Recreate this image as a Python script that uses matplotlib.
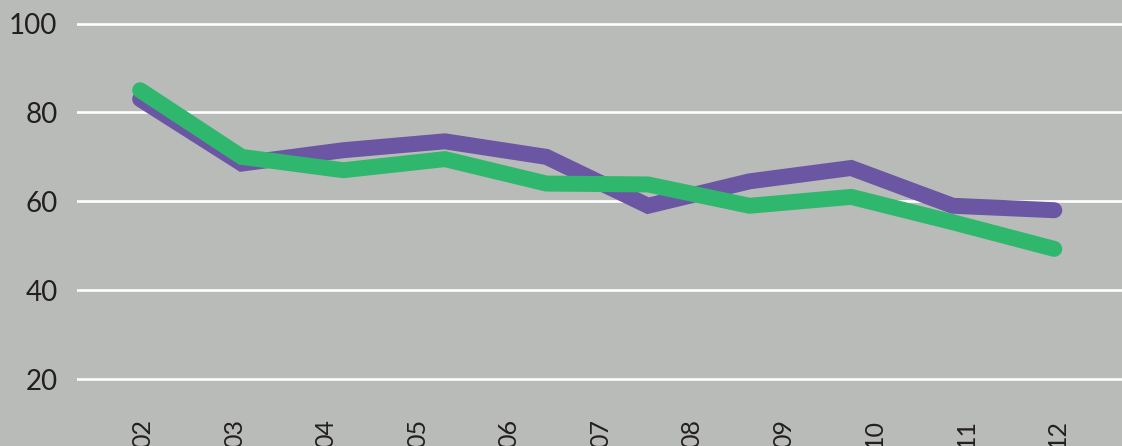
import numpy as np
import matplotlib
matplotlib.use("Agg")
import matplotlib.pyplot as plt

# tick labels along the bottom
years = ["02", "03", "04", "05", "06", "07", "08", "09", "10", "11", "12"]

# two series, 10 points each
purple_vals = [83, 68.5, 71.5, 73.5, 70, 59, 64.5, 67.5, 59, 58]
green_vals = [85, 70, 67, 69.5, 64, 63.8, 59, 61, 55.3, 49.3]

BG = "#b9bbb9"
PURPLE = "#6b56a3"
GREEN = "#30b76e"
TEXT = "#231f20"

plt.rcParams['font.family'] = ['Lato', 'DejaVu Sans']

fig = plt.figure(figsize=(11.22, 4.46), dpi=100)
fig.patch.set_facecolor(BG)
ax = fig.add_axes([77 / 1122, 34 / 446, 1 - 77 / 1122, 1 - 34 / 446])
ax.set_facecolor(BG)

# the series points are spread over the label range, not one per label
xs = np.linspace(-0.03, 9.96, len(purple_vals))

for vals, col in [(purple_vals, PURPLE), (green_vals, GREEN)]:
    ax.plot(xs, vals, color=col, lw=11.5, solid_capstyle='round',
            solid_joinstyle='miter', zorder=3)

ax.set_ylim(12.6, 105.3)
ax.set_xlim(-0.72, 10.7)
ax.set_yticks([20, 40, 60, 80, 100])
ax.yaxis.grid(True, color="white", lw=1.9)
ax.set_axisbelow(True)

ax.set_xticks(range(len(years)))
ax.set_xticklabels(years, rotation=90, fontsize=18, color=TEXT)
ax.tick_params(axis='y', labelsize=20, colors=TEXT, length=0, pad=14)
ax.tick_params(axis='x', length=0, pad=5)

for s in ax.spines.values():
    s.set_visible(False)

fig.savefig("out.png", dpi=100, facecolor=BG)
